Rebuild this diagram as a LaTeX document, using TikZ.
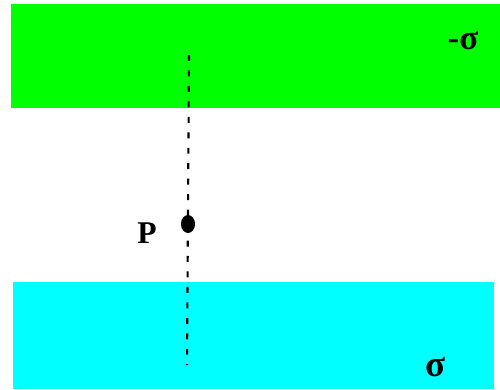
\documentclass[tikz,border=0pt]{standalone}
\usepackage{fontspec}
\setmainfont{Liberation Serif}
\usetikzlibrary{positioning,shapes.geometric}
\definecolor{slabgreen}{RGB}{0,255,0}
\definecolor{slabcyan}{RGB}{0,255,255}

\begin{document}
\begin{tikzpicture}[x=0.02cm, y=-0.02cm,
  lbl/.style={font=\bfseries\fontsize{18}{18}\selectfont, inner sep=0pt},
  axisline/.style={line width=1.2pt, dash pattern=on 3.4pt off 5.4pt}]
\useasboundingbox (0,0) rectangle (500,389);
\fill[slabgreen] (11,4) rectangle (500,108);
\fill[slabcyan] (13,282) rectangle (494,389);
\coordinate (top) at (189,55);
\coordinate (bot) at (187,365);
\draw[axisline] (top) -- (bot);
\node[ellipse, fill, inner sep=0pt, minimum width=8pt, minimum height=10.2pt] (pt) at (188,224) {};
\node[lbl] (P) at (147,233) {P};
\node[lbl, font=\bfseries\fontsize{20}{20}\selectfont] (neg) at (463,41) {-σ};
\node[lbl, font=\bfseries\fontsize{21}{21}\selectfont] (pos) at (436,367) {σ};
\end{tikzpicture}
\end{document}
